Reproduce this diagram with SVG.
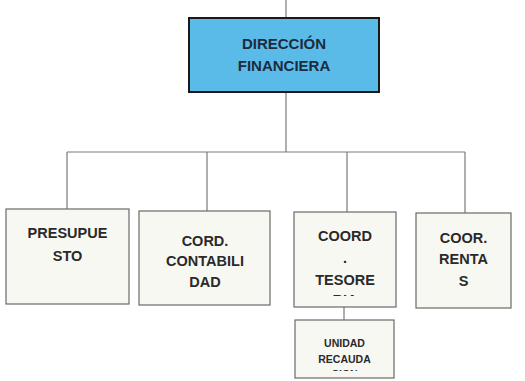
<svg xmlns="http://www.w3.org/2000/svg" width="525" height="381" viewBox="0 0 525 381">
<defs>
<style>
.bg{fill:#ffffff}
.main{fill:#5bbbe8;stroke:#1a1a1a;stroke-width:2}
.box{fill:#f8f8f2;stroke:#6a6a6a;stroke-width:1.2}
.conn{stroke:#7a7a7a;stroke-width:1.2;fill:none}
.t{font-family:"Liberation Sans",Arial,sans-serif;font-weight:bold;font-size:14.5px;fill:#2a2a2a;text-anchor:middle}
.tm{font-family:"Liberation Sans",Arial,sans-serif;font-weight:bold;font-size:15px;fill:#1d2b3c;text-anchor:middle}
.ts{font-family:"Liberation Sans",Arial,sans-serif;font-weight:bold;font-size:10.5px;fill:#2a2a2a;text-anchor:middle}
</style>
<clipPath id="clipTes"><rect x="294" y="212" width="102" height="84"/></clipPath>
<clipPath id="clipUni"><rect x="295" y="320" width="99" height="51"/></clipPath>
</defs>
<rect class="bg" x="0" y="0" width="525" height="381"/>
<g id="connectors">
<line class="conn" x1="286" y1="0" x2="286" y2="18"/>
<line class="conn" x1="286" y1="92" x2="286" y2="152"/>
<line class="conn" x1="67" y1="152" x2="465" y2="152"/>
<line class="conn" x1="67" y1="152" x2="67" y2="209"/>
<line class="conn" x1="207" y1="152" x2="207" y2="211"/>
<line class="conn" x1="347" y1="152" x2="347" y2="212"/>
<line class="conn" x1="465" y1="152" x2="465" y2="213"/>
<line class="conn" x1="344" y1="307" x2="344" y2="320"/>
</g>
<g id="direccion">
<rect class="main" x="189" y="18" width="190" height="74"/>
<text class="tm" x="284" y="49">DIRECCIÓN</text>
<text class="tm" x="284" y="71">FINANCIERA</text>
</g>
<g id="presupuesto">
<rect class="box" x="6" y="209" width="123" height="95"/>
<text class="t" x="67.5" y="238">PRESUPUE</text>
<text class="t" x="67.5" y="261">STO</text>
</g>
<g id="contabilidad">
<rect class="box" x="139" y="211" width="131" height="94"/>
<text class="t" x="205" y="246">CORD.</text>
<text class="t" x="205" y="266">CONTABILI</text>
<text class="t" x="205" y="287">DAD</text>
</g>
<g id="tesoreria">
<rect class="box" x="294" y="212" width="102" height="95"/>
<g clip-path="url(#clipTes)">
<text class="t" x="345" y="241">COORD</text>
<text class="t" x="345" y="263">.</text>
<text class="t" x="345" y="285">TESORE</text>
<text class="t" x="345" y="305">RIA</text>
</g>
</g>
<g id="rentas">
<rect class="box" x="416" y="213" width="95" height="95"/>
<text class="t" x="463.5" y="243">COOR.</text>
<text class="t" x="463.5" y="264">RENTA</text>
<text class="t" x="463.5" y="286">S</text>
</g>
<g id="recaudacion">
<rect class="box" x="295" y="320" width="99" height="58"/>
<g clip-path="url(#clipUni)">
<text class="ts" x="344.5" y="347">UNIDAD</text>
<text class="ts" x="344.5" y="363">RECAUDA</text>
<text class="ts" x="344.5" y="378">CION</text>
</g>
</g>
</svg>
